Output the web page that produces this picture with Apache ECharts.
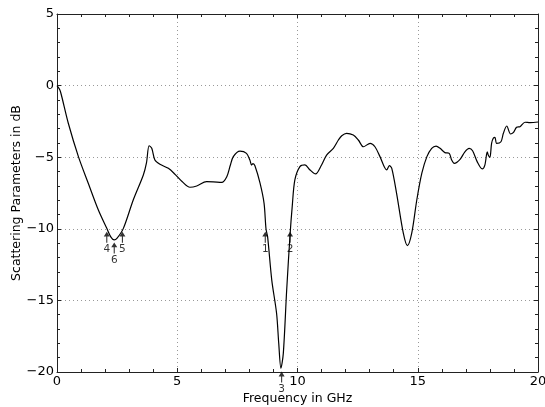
<!DOCTYPE html>
<html>
<head>
<meta charset="utf-8">
<script src="https://cdn.jsdelivr.net/npm/echarts@6/dist/echarts.min.js"></script>
<style>
  html, body { margin: 0; padding: 0; background: #fff; }
  #chart { width: 545px; height: 407px; }
</style>
</head>
<body>
<div id="chart"></div>
<script>
// Frequency sweep (GHz) and reflection level (dB)
const freqGHz = [
  0, 0.12, 0.2, 0.47, 0.89, 1.30, 1.72, 2.07, 2.25, 2.38, 2.5, 2.76, 3.17, 3.59, 3.72, 3.83,
  3.94, 4.07, 4.28, 4.63, 4.91, 5.2, 5.53, 5.81, 6.22, 6.5, 6.85, 7.06, 7.2, 7.33, 7.61,
  7.88, 8.02, 8.09, 8.15, 8.23, 8.44, 8.61, 8.69, 8.76, 8.93, 9.13, 9.22, 9.31, 9.41,
  9.55, 9.69, 9.78, 9.89, 10.10, 10.31, 10.52, 10.75, 11.0, 11.21, 11.49, 11.70, 11.84,
  12.04, 12.32, 12.53, 12.74, 13.02, 13.22, 13.43, 13.71, 13.82, 13.92, 14.12, 14.40,
  14.57, 14.75, 14.96, 15.17, 15.38, 15.58, 15.76, 15.93, 16.13, 16.31, 16.41, 16.52,
  16.76, 16.96, 17.14, 17.28, 17.47, 17.68, 17.79, 17.89, 17.93, 18.0, 18.07, 18.14,
  18.21, 18.28, 18.46, 18.56, 18.70, 18.86, 18.97, 19.11, 19.25, 19.46, 19.67, 20.0
];
const s11dB = [
  0, -0.3, -0.78, -2.63, -4.96, -6.82, -8.69, -9.97, -10.6, -10.78, -10.65, -9.97, -7.99, -6.24, -5.4, -4.2,
  -4.38, -5.2, -5.5, -5.78, -6.2, -6.7, -7.1, -7.01, -6.71, -6.72, -6.76, -6.36, -5.6, -4.96, -4.57,
  -4.73, -5.2, -5.55, -5.45, -5.6, -6.8, -8.22, -10.0, -10.6, -13.58, -15.9, -18.0, -19.74, -18.7,
  -14.27, -10.43, -8.45, -6.59, -5.66, -5.54, -5.89, -6.17, -5.54, -4.85, -4.38, -3.8, -3.5,
  -3.33, -3.45, -3.80, -4.27, -4.03, -4.27, -4.96, -5.89, -5.59, -5.78, -7.52, -10.31,
  -11.18, -10.31, -7.99, -6.12, -4.96, -4.38, -4.22, -4.38, -4.68, -4.73, -5.2, -5.43,
  -5.15, -4.62, -4.38, -4.55, -5.31, -5.82, -5.55, -4.62, -4.85, -5.01, -4.03, -3.68,
  -3.61, -4.03, -3.92, -3.33, -2.82, -3.38, -3.29, -2.91, -2.87, -2.56, -2.59, -2.54
];

// Numbered markers (arrow tip sits on the point)
const markerNames = ['4', '5', '6', '1', '2', '3'];
const markerFreq  = [2.07, 2.72, 2.38, 8.66, 9.69, 9.34];
const markerLevel = [-10.2, -10.2, -10.95, -10.2, -10.2, -19.97];

const xTicks = [0, 5, 10, 15, 20];
const yTicks = [-20, -15, -10, -5, 0, 5];

const FONT = 'DejaVu Sans';
const AXIS_COLOR = '#222';

const curve = freqGHz.map((f, i) => [f, s11dB[i]]);
const markers = markerFreq.map((f, i) => ({ value: [f, markerLevel[i]], name: markerNames[i] }));

const arrowPath = 'path://M5 0 L10 9 L5.9 9 L5.9 20 L4.1 20 L4.1 9 L0 9 Z';

function baseAxis(extra) {
  return Object.assign({
    type: 'value',
    axisLine: { show: true, onZero: false, lineStyle: { color: AXIS_COLOR, width: 1 } },
    axisTick: { show: true, inside: true, length: 4, lineStyle: { color: AXIS_COLOR } },
    minorTick: { show: true, splitNumber: 5, length: 3, lineStyle: { color: AXIS_COLOR } },
    splitLine: { show: false },
    axisLabel: { show: false }
  }, extra);
}

const chart = echarts.init(document.getElementById('chart'), null, { renderer: 'canvas' });
chart.setOption({
  animation: false,
  backgroundColor: '#fff',
  grid: { left: 57, right: 7, top: 14, bottom: 35, containLabel: false, outerBoundsMode: 'none' },
  xAxis: [
    baseAxis({
      position: 'bottom', min: xTicks[0], max: xTicks[xTicks.length - 1], interval: 5,
      name: 'Frequency in GHz', nameLocation: 'middle', nameGap: 20, nameMoveOverlap: false,
      nameTextStyle: { fontFamily: FONT, fontSize: 12.5, color: '#000' },
      axisLabel: { show: true, margin: 3, fontFamily: FONT, fontSize: 13, color: '#000' },
      splitLine: { show: true, lineStyle: { color: '#999', type: [1, 3], width: 1 } }
    }),
    baseAxis({ position: 'top', min: xTicks[0], max: xTicks[xTicks.length - 1], interval: 5 })
  ],
  yAxis: [
    baseAxis({
      position: 'left', min: yTicks[0], max: yTicks[yTicks.length - 1], interval: 5,
      name: 'Scattering Parameters in dB', nameLocation: 'middle', nameGap: 34, nameMoveOverlap: false,
      nameTextStyle: { fontFamily: FONT, fontSize: 12.5, color: '#000' },
      axisLabel: {
        show: true, margin: 3, fontFamily: FONT, fontSize: 13, color: '#000',
        formatter: v => String(v).replace('-', '\u2212')
      },
      splitLine: { show: true, lineStyle: { color: '#999', type: [1, 3], width: 1 } }
    }),
    baseAxis({ position: 'right', min: yTicks[0], max: yTicks[yTicks.length - 1], interval: 5 })
  ],
  series: [
    {
      type: 'line',
      data: curve,
      xAxisIndex: 0, yAxisIndex: 0,
      showSymbol: false,
      smooth: 0.3,
      lineStyle: { color: '#000', width: 1.2 },
      z: 3
    },
    {
      type: 'scatter',
      data: markers,
      xAxisIndex: 0, yAxisIndex: 0,
      clip: false,
      symbol: arrowPath,
      symbolSize: [6, 11],
      symbolOffset: [0, '50%'],
      itemStyle: { color: '#000' },
      label: {
        show: true, position: 'bottom', distance: 1,
        formatter: p => p.name,
        fontFamily: FONT, fontSize: 10.5, color: '#000'
      },
      z: 4
    }
  ]
});
</script>
</body>
</html>
